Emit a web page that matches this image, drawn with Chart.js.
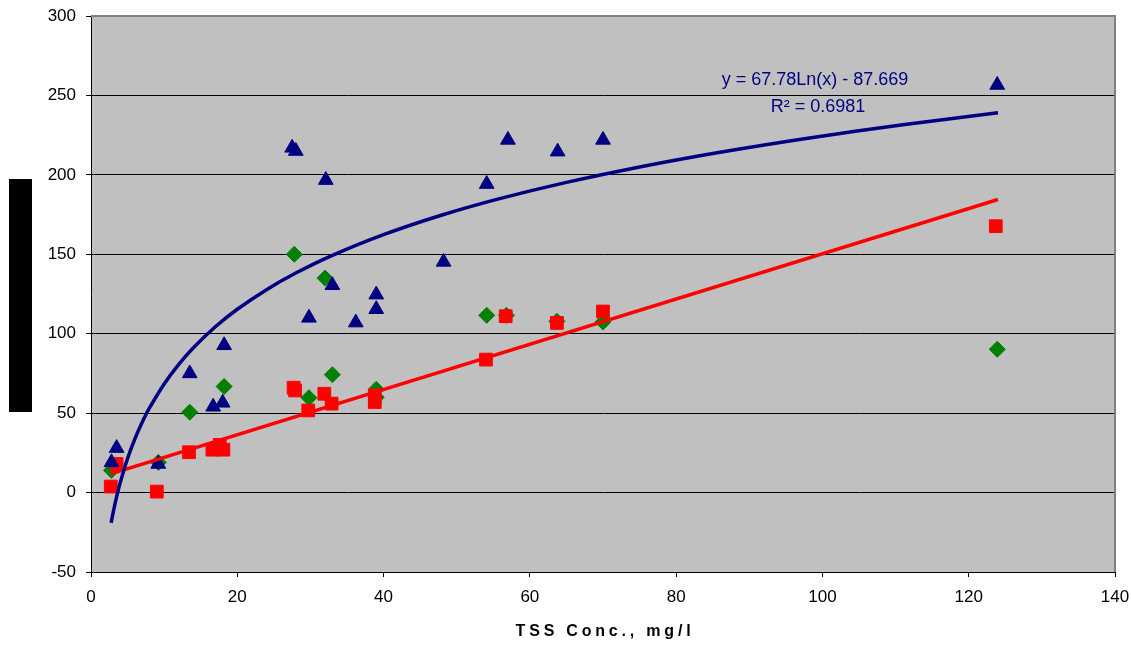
<!DOCTYPE html>
<html>
<head>
<meta charset="utf-8">
<script src="https://cdn.jsdelivr.net/npm/chart.js@4.4.1/dist/chart.umd.min.js"></script>
<style>
  html, body { margin: 0; padding: 0; background: #ffffff; }
  #wrap { width: 1131px; height: 645px; position: relative; }
</style>
</head>
<body>
<div id="wrap"><canvas id="c" width="1131" height="645"></canvas></div>
<script>
// ---- data ----
const blueX  = [2.8, 3.5, 9.2, 13.5, 16.7, 18.0, 18.2, 27.5, 28.0, 29.8, 32.1, 33.0, 36.2, 39.0, 39.0, 48.2, 54.1, 57.0, 63.8, 70.0, 123.9];
const blueY  = [19, 28, 18, 75, 54, 56.5, 92.7, 217, 215, 110, 196.7, 130.5, 107, 124.6, 115.4, 145.2, 194.2, 222, 214.6, 222, 256.6];
const greenX = [2.8, 9.2, 13.5, 18.2, 27.8, 29.8, 32.0, 33.0, 39.0, 39.0, 54.1, 56.8, 63.7, 70.0, 123.9];
const greenY = [14, 19, 50.6, 66.8, 150, 59.7, 135, 74.2, 65, 60, 111.6, 111.6, 107.8, 107.4, 90.2];
const redX   = [2.7, 3.5, 9.0, 13.4, 16.6, 17.6, 18.1, 27.7, 27.9, 29.7, 31.9, 32.9, 38.8, 38.8, 54.0, 56.7, 63.7, 70.0, 123.7];
const redY   = [3.8, 18, 0.6, 25.4, 27, 30, 27, 66, 64.3, 51.7, 62.2, 56, 61.2, 57, 83.7, 111, 106.8, 114, 167.7];
// red linear trendline end points
const redTrendX = [2.7, 124];
const redTrendY = [11.8, 184.5];
// blue log trendline: coefficients from the chart's own label
const logA = 67.78, logB = -87.669;
const blueTrendX = [2.75, 3, 3.5, 4, 5, 6, 7, 8, 10, 12, 14, 17, 20, 24, 28, 33, 40, 48, 56, 65, 75, 86, 98, 111, 124];
const eqLine1 = 'y = 67.78Ln(x) - 87.669';
const eqLine2 = 'R² = 0.6981';
const xTitle = 'TSS Conc., mg/l';
const yTicks = [-50, 0, 50, 100, 150, 200, 250, 300];
const xTicks = [0, 20, 40, 60, 80, 100, 120, 140];

const pts = (xs, ys) => xs.map((x, i) => ({x: x, y: ys[i]}));
const blueTrend = blueTrendX.map(x => ({x: x, y: logA * Math.log(x) + logB}));

const FONT = '"Liberation Sans", Arial, sans-serif';

const decor = {
  id: 'decor',
  beforeDraw(chart) {
    const {ctx, chartArea: a} = chart;
    ctx.save();
    ctx.fillStyle = '#C0C0C0';
    ctx.fillRect(a.left, a.top, a.right - a.left, a.bottom - a.top);
    ctx.restore();
  },
  afterDraw(chart) {
    const {ctx, chartArea: a} = chart;
    ctx.save();
    ctx.strokeStyle = '#808080';
    ctx.lineWidth = 2;
    ctx.beginPath();
    ctx.moveTo(a.left, a.top);
    ctx.lineTo(a.right, a.top);
    ctx.lineTo(a.right, a.bottom);
    ctx.stroke();
    ctx.fillStyle = '#000000';
    ctx.fillRect(9, 179, 23, 233);
    ctx.fillStyle = '#000080';
    ctx.font = '18px ' + FONT;
    ctx.textAlign = 'center';
    ctx.textBaseline = 'middle';
    ctx.fillText(eqLine1, 815, 80);
    ctx.fillText(eqLine2, 818, 107);
    ctx.fillStyle = '#000000';
    ctx.font = 'bold 16px ' + FONT;
    try { ctx.letterSpacing = '3.8px'; } catch (e) {}
    ctx.fillText(xTitle, 605, 632);
    ctx.restore();
  }
};

new Chart(document.getElementById('c'), {
  type: 'scatter',
  data: {
    datasets: [
      { label: 'blue trend', type: 'line', data: blueTrend, borderColor: '#000080', borderWidth: 3.5,
        pointRadius: 0, fill: false, tension: 0.3, order: 0 },
      { label: 'red trend', type: 'line', data: pts(redTrendX, redTrendY), borderColor: '#FF0000', borderWidth: 3.5,
        pointRadius: 0, fill: false, order: 1 },
      { label: 'blue', data: pts(blueX, blueY), pointStyle: 'triangle', pointRadius: 8.5,
        backgroundColor: '#000080', borderColor: '#000080', borderWidth: 1, order: 2 },
      { label: 'red', data: pts(redX, redY), pointStyle: 'rect', pointRadius: 9,
        backgroundColor: '#FF0000', borderColor: '#FF0000', borderWidth: 1, order: 3 },
      { label: 'green', data: pts(greenX, greenY), pointStyle: 'rectRot', pointRadius: 8,
        backgroundColor: '#008000', borderColor: '#008000', borderWidth: 1, order: 4 }
    ]
  },
  options: {
    responsive: false,
    animation: false,
    events: [],
    layout: { padding: { left: 0, right: 16, top: 16, bottom: 0 } },
    plugins: { legend: { display: false }, tooltip: { enabled: false } },
    scales: {
      x: {
        type: 'linear', min: 0, max: 140,
        afterBuildTicks: s => { s.ticks = xTicks.map(v => ({value: v})); },
        afterFit: s => { s.height = 73; s.paddingLeft = 0; s.paddingRight = 0; },
        grid: { drawOnChartArea: false, drawTicks: true, tickLength: 5, tickColor: '#000000' },
        border: { display: true, color: '#000000', width: 1 },
        ticks: { color: '#000000', font: { family: FONT, size: 17 }, padding: 10, maxRotation: 0, autoSkip: false }
      },
      y: {
        type: 'linear', min: -50, max: 300,
        afterBuildTicks: s => { s.ticks = yTicks.map(v => ({value: v})); },
        afterFit: s => { s.width = 91; s.paddingTop = 0; s.paddingBottom = 0; },
        grid: { drawOnChartArea: true, drawTicks: true, tickLength: 5,
                color: c => (c.tick && c.tick.value === 300) ? 'rgba(0,0,0,0)' : '#000000',
                tickColor: '#000000', lineWidth: 1 },
        border: { display: true, color: '#000000', width: 1 },
        ticks: { color: '#000000', font: { family: FONT, size: 17 }, padding: 10, autoSkip: false }
      }
    }
  },
  plugins: [decor]
});
</script>
</body>
</html>
